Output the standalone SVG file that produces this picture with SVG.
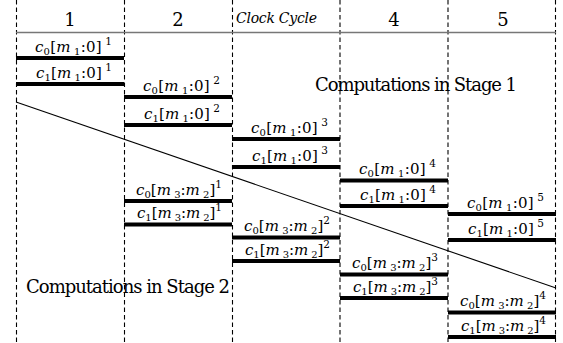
<svg xmlns="http://www.w3.org/2000/svg" width="563" height="343" viewBox="0 0 563 343">
<style>
text{font-family:"DejaVu Serif","Liberation Serif",serif;fill:#000}
.hdr{font-size:18px;text-anchor:middle}
.cc{font-size:14px;font-style:italic}
.stage{font-size:18px}
.lbl{font-size:15px}
.it{font-style:italic}
.sub{font-size:10px}
.sup{font-size:10.5px}
.grid{stroke:#000;stroke-width:1.1;stroke-dasharray:4.5,3;fill:none}
.bar{stroke:#000;stroke-width:4}
.hline{stroke:#777;stroke-width:1.6}
.diag{stroke:#000;stroke-width:1.1}
</style>
<g id="grid">
<line class="grid" x1="16.5" y1="0" x2="16.5" y2="343"/>
<line class="grid" x1="124.5" y1="0" x2="124.5" y2="343"/>
<line class="grid" x1="232.5" y1="0" x2="232.5" y2="343"/>
<line class="grid" x1="340" y1="0" x2="340" y2="343"/>
<line class="grid" x1="448" y1="0" x2="448" y2="343"/>
<line class="grid" x1="555.5" y1="0" x2="555.5" y2="343"/>
<line class="hline" x1="16" y1="32.5" x2="556" y2="32.5"/>
</g>
<g id="header">
<text class="hdr" x="70" y="26">1</text>
<text class="hdr" x="178" y="26">2</text>
<text class="cc" x="236" y="22.5" textLength="81">Clock Cycle</text>
<text class="hdr" x="394" y="26">4</text>
<text class="hdr" x="503" y="26">5</text>
</g>
<g id="stage-labels">
<text class="stage" x="315" y="91" textLength="202">Computations in Stage 1</text>
<text class="stage" x="26" y="293" textLength="204">Computations in Stage 2</text>
</g>
<g id="connectors">
<line class="diag" x1="16" y1="102" x2="556" y2="288"/>
</g>
<g id="s1-c1">
<line class="bar" x1="16" y1="58" x2="124" y2="58"/>
<text class="lbl" x="35" y="51.5" textLength="77"><tspan class="it">c</tspan><tspan class="sub" dy="3">0</tspan><tspan dy="-3">[</tspan><tspan class="it">m</tspan><tspan class="sub" dy="3"> 1</tspan><tspan dy="-3">:0]</tspan><tspan class="sup" dy="-7"> 1</tspan></text>
<line class="bar" x1="16" y1="84" x2="124" y2="84"/>
<text class="lbl" x="36" y="77.5" textLength="76"><tspan class="it">c</tspan><tspan class="sub" dy="3">1</tspan><tspan dy="-3">[</tspan><tspan class="it">m</tspan><tspan class="sub" dy="3"> 1</tspan><tspan dy="-3">:0]</tspan><tspan class="sup" dy="-7"> 1</tspan></text>
</g>
<g id="s1-c2">
<line class="bar" x1="124" y1="97" x2="232" y2="97"/>
<text class="lbl" x="143" y="90.5" textLength="77"><tspan class="it">c</tspan><tspan class="sub" dy="3">0</tspan><tspan dy="-3">[</tspan><tspan class="it">m</tspan><tspan class="sub" dy="3"> 1</tspan><tspan dy="-3">:0]</tspan><tspan class="sup" dy="-7"> 2</tspan></text>
<line class="bar" x1="124" y1="125" x2="232" y2="125"/>
<text class="lbl" x="144" y="118.5" textLength="76"><tspan class="it">c</tspan><tspan class="sub" dy="3">1</tspan><tspan dy="-3">[</tspan><tspan class="it">m</tspan><tspan class="sub" dy="3"> 1</tspan><tspan dy="-3">:0]</tspan><tspan class="sup" dy="-7"> 2</tspan></text>
</g>
<g id="s1-c3">
<line class="bar" x1="232" y1="139" x2="340" y2="139"/>
<text class="lbl" x="251" y="132.5" textLength="77"><tspan class="it">c</tspan><tspan class="sub" dy="3">0</tspan><tspan dy="-3">[</tspan><tspan class="it">m</tspan><tspan class="sub" dy="3"> 1</tspan><tspan dy="-3">:0]</tspan><tspan class="sup" dy="-7"> 3</tspan></text>
<line class="bar" x1="232" y1="167" x2="340" y2="167"/>
<text class="lbl" x="252" y="160.5" textLength="76"><tspan class="it">c</tspan><tspan class="sub" dy="3">1</tspan><tspan dy="-3">[</tspan><tspan class="it">m</tspan><tspan class="sub" dy="3"> 1</tspan><tspan dy="-3">:0]</tspan><tspan class="sup" dy="-7"> 3</tspan></text>
</g>
<g id="s1-c4">
<line class="bar" x1="340" y1="180.5" x2="448" y2="180.5"/>
<text class="lbl" x="359" y="174" textLength="77"><tspan class="it">c</tspan><tspan class="sub" dy="3">0</tspan><tspan dy="-3">[</tspan><tspan class="it">m</tspan><tspan class="sub" dy="3"> 1</tspan><tspan dy="-3">:0]</tspan><tspan class="sup" dy="-7"> 4</tspan></text>
<line class="bar" x1="340" y1="206" x2="448" y2="206"/>
<text class="lbl" x="360" y="199.5" textLength="76"><tspan class="it">c</tspan><tspan class="sub" dy="3">1</tspan><tspan dy="-3">[</tspan><tspan class="it">m</tspan><tspan class="sub" dy="3"> 1</tspan><tspan dy="-3">:0]</tspan><tspan class="sup" dy="-7"> 4</tspan></text>
</g>
<g id="s1-c5">
<line class="bar" x1="448" y1="214" x2="556" y2="214"/>
<text class="lbl" x="467" y="207.5" textLength="77"><tspan class="it">c</tspan><tspan class="sub" dy="3">0</tspan><tspan dy="-3">[</tspan><tspan class="it">m</tspan><tspan class="sub" dy="3"> 1</tspan><tspan dy="-3">:0]</tspan><tspan class="sup" dy="-7"> 5</tspan></text>
<line class="bar" x1="448" y1="240" x2="556" y2="240"/>
<text class="lbl" x="468" y="233.5" textLength="76"><tspan class="it">c</tspan><tspan class="sub" dy="3">1</tspan><tspan dy="-3">[</tspan><tspan class="it">m</tspan><tspan class="sub" dy="3"> 1</tspan><tspan dy="-3">:0]</tspan><tspan class="sup" dy="-7"> 5</tspan></text>
</g>
<g id="s2-c2">
<line class="bar" x1="124" y1="201" x2="232" y2="201"/>
<text class="lbl" x="136" y="194.5" textLength="86"><tspan class="it">c</tspan><tspan class="sub" dy="3">0</tspan><tspan dy="-3">[</tspan><tspan class="it">m</tspan><tspan class="sub" dy="3"> 3</tspan><tspan dy="-3">:</tspan><tspan class="it">m</tspan><tspan class="sub" dy="3"> 2</tspan><tspan dy="-3">]</tspan><tspan class="sup" dy="-7">1</tspan></text>
<line class="bar" x1="124" y1="224.5" x2="232" y2="224.5"/>
<text class="lbl" x="137" y="218" textLength="85"><tspan class="it">c</tspan><tspan class="sub" dy="3">1</tspan><tspan dy="-3">[</tspan><tspan class="it">m</tspan><tspan class="sub" dy="3"> 3</tspan><tspan dy="-3">:</tspan><tspan class="it">m</tspan><tspan class="sub" dy="3"> 2</tspan><tspan dy="-3">]</tspan><tspan class="sup" dy="-7">1</tspan></text>
</g>
<g id="s2-c3">
<line class="bar" x1="232" y1="237.5" x2="340" y2="237.5"/>
<text class="lbl" x="244" y="231" textLength="86"><tspan class="it">c</tspan><tspan class="sub" dy="3">0</tspan><tspan dy="-3">[</tspan><tspan class="it">m</tspan><tspan class="sub" dy="3"> 3</tspan><tspan dy="-3">:</tspan><tspan class="it">m</tspan><tspan class="sub" dy="3"> 2</tspan><tspan dy="-3">]</tspan><tspan class="sup" dy="-7">2</tspan></text>
<line class="bar" x1="232" y1="261" x2="340" y2="261"/>
<text class="lbl" x="245" y="254.5" textLength="85"><tspan class="it">c</tspan><tspan class="sub" dy="3">1</tspan><tspan dy="-3">[</tspan><tspan class="it">m</tspan><tspan class="sub" dy="3"> 3</tspan><tspan dy="-3">:</tspan><tspan class="it">m</tspan><tspan class="sub" dy="3"> 2</tspan><tspan dy="-3">]</tspan><tspan class="sup" dy="-7">2</tspan></text>
</g>
<g id="s2-c4">
<line class="bar" x1="340" y1="274.5" x2="448" y2="274.5"/>
<text class="lbl" x="352" y="268" textLength="86"><tspan class="it">c</tspan><tspan class="sub" dy="3">0</tspan><tspan dy="-3">[</tspan><tspan class="it">m</tspan><tspan class="sub" dy="3"> 3</tspan><tspan dy="-3">:</tspan><tspan class="it">m</tspan><tspan class="sub" dy="3"> 2</tspan><tspan dy="-3">]</tspan><tspan class="sup" dy="-7">3</tspan></text>
<line class="bar" x1="340" y1="298" x2="448" y2="298"/>
<text class="lbl" x="353" y="291.5" textLength="85"><tspan class="it">c</tspan><tspan class="sub" dy="3">1</tspan><tspan dy="-3">[</tspan><tspan class="it">m</tspan><tspan class="sub" dy="3"> 3</tspan><tspan dy="-3">:</tspan><tspan class="it">m</tspan><tspan class="sub" dy="3"> 2</tspan><tspan dy="-3">]</tspan><tspan class="sup" dy="-7">3</tspan></text>
</g>
<g id="s2-c5">
<line class="bar" x1="448" y1="312.5" x2="556" y2="312.5"/>
<text class="lbl" x="460" y="306" textLength="86"><tspan class="it">c</tspan><tspan class="sub" dy="3">0</tspan><tspan dy="-3">[</tspan><tspan class="it">m</tspan><tspan class="sub" dy="3"> 3</tspan><tspan dy="-3">:</tspan><tspan class="it">m</tspan><tspan class="sub" dy="3"> 2</tspan><tspan dy="-3">]</tspan><tspan class="sup" dy="-7">4</tspan></text>
<line class="bar" x1="448" y1="337" x2="556" y2="337"/>
<text class="lbl" x="461" y="330.5" textLength="85"><tspan class="it">c</tspan><tspan class="sub" dy="3">1</tspan><tspan dy="-3">[</tspan><tspan class="it">m</tspan><tspan class="sub" dy="3"> 3</tspan><tspan dy="-3">:</tspan><tspan class="it">m</tspan><tspan class="sub" dy="3"> 2</tspan><tspan dy="-3">]</tspan><tspan class="sup" dy="-7">4</tspan></text>
</g>
</svg>
